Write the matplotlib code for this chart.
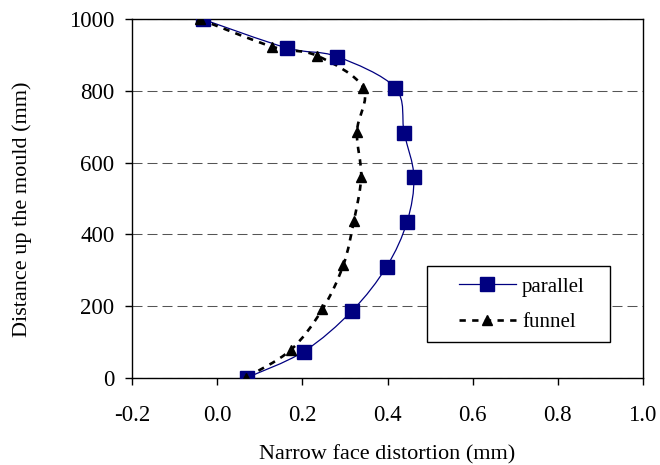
import matplotlib
matplotlib.use("Agg")
import matplotlib.pyplot as plt
from matplotlib.path import Path
from matplotlib.patches import PathPatch, Rectangle
from matplotlib.lines import Line2D
from matplotlib.ticker import FormatStrFormatter

# values
parallel_x = [-0.034, 0.164, 0.281, 0.418, 0.439, 0.462, 0.446, 0.398, 0.317, 0.203, 0.069]
parallel_y = [1000, 920, 896, 809, 684, 561, 435, 310, 187, 73, 0]
funnel_x = [-0.041, 0.128, 0.235, 0.343, 0.328, 0.338, 0.321, 0.296, 0.247, 0.172, 0.067]
funnel_y = [1000, 924, 898, 809, 686, 561, 438, 314, 191, 77, 0]

x_ticks = [-0.2, 0.0, 0.2, 0.4, 0.6, 0.8, 1.0]
y_ticks = [0, 200, 400, 600, 800, 1000]

plt.rcParams["font.family"] = ["Liberation Serif", "DejaVu Serif"]
plt.rcParams["axes.unicode_minus"] = False

NAVY = "#000080"


def smooth_path(xs, ys):
    """Excel-style smoothed line: cubic Bezier through the points (tension 1/6)."""
    pts = list(zip(xs, ys))
    ext = [pts[0]] + pts + [pts[-1]]
    verts = [pts[0]]
    codes = [Path.MOVETO]
    for i in range(1, len(ext) - 2):
        p0, p1, p2, p3 = ext[i - 1], ext[i], ext[i + 1], ext[i + 2]
        c1 = (p1[0] + (p2[0] - p0[0]) / 6, p1[1] + (p2[1] - p0[1]) / 6)
        c2 = (p2[0] - (p3[0] - p1[0]) / 6, p2[1] - (p3[1] - p1[1]) / 6)
        verts += [c1, c2, p2]
        codes += [Path.CURVE4] * 3
    return Path(verts, codes)


fig = plt.figure(figsize=(6.6, 4.65), dpi=100)
ax = fig.add_axes([0.2005, 0.1877, 0.7733, 0.7708])

ax.set_xlim(-0.2, 1.0)
ax.set_ylim(0, 1000)
ax.set_xticks(x_ticks)
ax.set_yticks(y_ticks)
ax.xaxis.set_major_formatter(FormatStrFormatter("%.1f"))

ax.yaxis.grid(True, color="#555555", linewidth=0.75, linestyle=(0, (9.6, 4.8)))
ax.set_axisbelow(True)

dash = (0, (2.4, 2.4))
ax.add_patch(PathPatch(smooth_path(parallel_x, parallel_y), fill=False,
                       edgecolor=NAVY, linewidth=0.9, zorder=2))
ax.add_patch(PathPatch(smooth_path(funnel_x, funnel_y), fill=False,
                       edgecolor="black", linewidth=1.9, linestyle=dash, zorder=2))
ax.plot(parallel_x, parallel_y, linestyle="none", marker="s", markersize=9.5,
        color=NAVY, zorder=3)
ax.plot(funnel_x, funnel_y, linestyle="none", marker="^", markersize=7,
        color="black", zorder=4)

for s in ax.spines.values():
    s.set_linewidth(1.0)
    s.set_color("black")
ax.tick_params(direction="out", length=5, width=1.0, labelsize=16.5, pad=8)
ax.tick_params(axis="x", pad=15)

ax.set_xlabel("Narrow face distortion (mm)", fontsize=16, va="center")
ax.set_ylabel("Distance up the mould (mm)", fontsize=16, va="center")
ax.xaxis.set_label_coords(0.499, -0.215)
ax.yaxis.set_label_coords(-0.216, 0.47)

# legend box
ax.add_patch(Rectangle((0.577, 0.100), 0.359, 0.212, transform=ax.transAxes,
                       facecolor="white", edgecolor="black", linewidth=1.0, zorder=5))
handles = [
    Line2D([], [], color=NAVY, linewidth=0.9, marker="s", markersize=9.5),
    Line2D([], [], color="black", linewidth=1.9, linestyle=dash, marker="^", markersize=7),
]
leg = ax.legend(handles, ["parallel", "funnel"], loc="center",
                bbox_to_anchor=(0.763, 0.204), frameon=False, numpoints=1,
                fontsize=15, handlelength=2.75, handletextpad=0.3,
                labelspacing=0.75, borderpad=0)
leg.set_zorder(6)

fig.savefig("out.png", dpi=100)
